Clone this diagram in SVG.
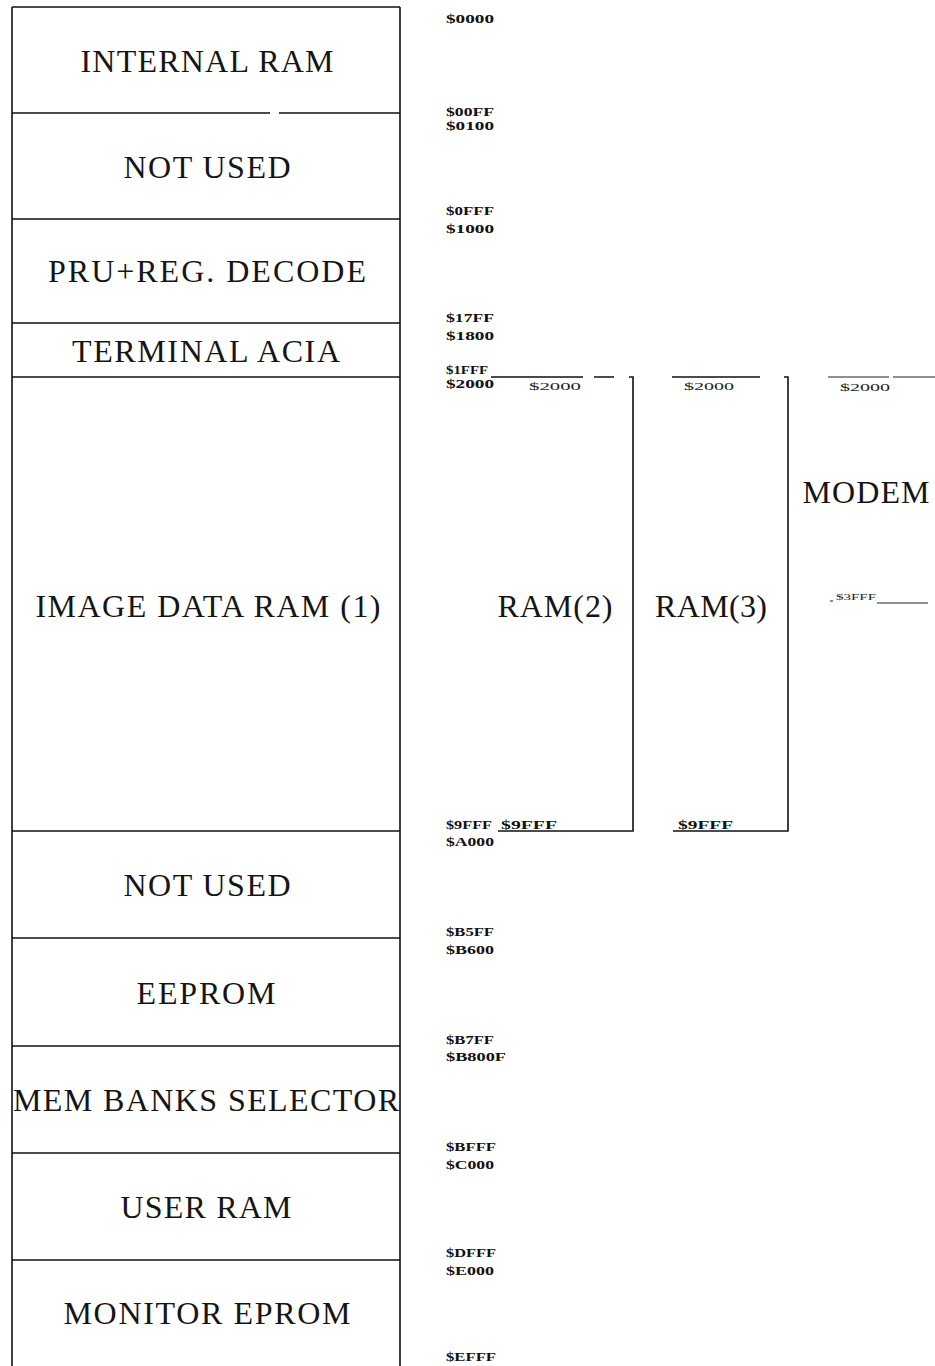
<svg xmlns="http://www.w3.org/2000/svg" width="935" height="1366" viewBox="0 0 935 1366">
<style>
.ln{stroke:#111;stroke-width:1.6;fill:none}
.thin{stroke:#222;stroke-width:1.2;fill:none}
.lbl{font-family:"Liberation Serif",serif;font-size:32px;fill:#151515;text-anchor:middle}
.addr{font-family:"Liberation Serif",serif;font-size:12px;font-weight:bold;fill:#111}
.sub{font-family:"Liberation Serif",serif;font-size:11px;fill:#222}
.tiny{font-family:"Liberation Serif",serif;font-size:9px;fill:#222}
</style>
<rect width="935" height="1366" fill="#fff"/>
<g id="memory-column" class="ln">
<path d="M12 7 H400 M12 7 V1366 M400 7 V1366"/>
</g>
<g id="internal-ram"><path class="ln" d="M12 113 H270 M279 113 H400"/><text class="lbl" x="207" y="72" textLength="253" lengthAdjust="spacing">INTERNAL RAM</text></g>
<g id="not-used-1"><path class="ln" d="M12 219 H400"/><text class="lbl" x="207" y="178" textLength="167" lengthAdjust="spacing">NOT USED</text></g>
<g id="pru-reg-decode"><path class="ln" d="M12 323 H400"/><text class="lbl" x="207" y="282" textLength="318" lengthAdjust="spacing">PRU+REG. DECODE</text></g>
<g id="terminal-acia"><path class="ln" d="M12 377 H400"/><text class="lbl" x="206" y="362" textLength="268" lengthAdjust="spacing">TERMINAL ACIA</text></g>
<g id="image-data-ram"><path class="ln" d="M12 831 H400"/><text class="lbl" x="208" y="617" textLength="345" lengthAdjust="spacing">IMAGE DATA RAM (1)</text></g>
<g id="not-used-2"><path class="ln" d="M12 938 H400"/><text class="lbl" x="207" y="896" textLength="167" lengthAdjust="spacing">NOT USED</text></g>
<g id="eeprom"><path class="ln" d="M12 1046 H400"/><text class="lbl" x="206" y="1004" textLength="139" lengthAdjust="spacing">EEPROM</text></g>
<g id="mem-banks-selector"><path class="ln" d="M12 1153 H400"/><text class="lbl" x="206" y="1111" textLength="386" lengthAdjust="spacing">MEM BANKS SELECTOR</text></g>
<g id="user-ram"><path class="ln" d="M12 1260 H400"/><text class="lbl" x="206" y="1218" textLength="171" lengthAdjust="spacing">USER RAM</text></g>
<g id="monitor-eprom"><text class="lbl" x="207" y="1324" textLength="287" lengthAdjust="spacing">MONITOR EPROM</text></g>
<g id="addresses">
<text class="addr" x="446" y="23" textLength="48" lengthAdjust="spacingAndGlyphs">$0000</text>
<text class="addr" x="446" y="116" textLength="48" lengthAdjust="spacingAndGlyphs">$00FF</text>
<text class="addr" x="446" y="130" textLength="48" lengthAdjust="spacingAndGlyphs">$0100</text>
<text class="addr" x="446" y="215" textLength="48" lengthAdjust="spacingAndGlyphs">$0FFF</text>
<text class="addr" x="446" y="233" textLength="48" lengthAdjust="spacingAndGlyphs">$1000</text>
<text class="addr" x="446" y="322" textLength="48" lengthAdjust="spacingAndGlyphs">$17FF</text>
<text class="addr" x="446" y="340" textLength="48" lengthAdjust="spacingAndGlyphs">$1800</text>
<text class="addr" x="446" y="374" textLength="42" lengthAdjust="spacingAndGlyphs">$1FFF</text>
<text class="addr" x="446" y="388" textLength="48" lengthAdjust="spacingAndGlyphs">$2000</text>
<text class="addr" x="446" y="829" textLength="46" lengthAdjust="spacingAndGlyphs">$9FFF</text>
<text class="addr" x="446" y="846" textLength="48" lengthAdjust="spacingAndGlyphs">$A000</text>
<text class="addr" x="446" y="936" textLength="48" lengthAdjust="spacingAndGlyphs">$B5FF</text>
<text class="addr" x="446" y="954" textLength="48" lengthAdjust="spacingAndGlyphs">$B600</text>
<text class="addr" x="446" y="1044" textLength="48" lengthAdjust="spacingAndGlyphs">$B7FF</text>
<text class="addr" x="446" y="1061" textLength="60" lengthAdjust="spacingAndGlyphs">$B800F</text>
<text class="addr" x="446" y="1151" textLength="50" lengthAdjust="spacingAndGlyphs">$BFFF</text>
<text class="addr" x="446" y="1169" textLength="48" lengthAdjust="spacingAndGlyphs">$C000</text>
<text class="addr" x="446" y="1257" textLength="50" lengthAdjust="spacingAndGlyphs">$DFFF</text>
<text class="addr" x="446" y="1275" textLength="48" lengthAdjust="spacingAndGlyphs">$E000</text>
<text class="addr" x="446" y="1361" textLength="50" lengthAdjust="spacingAndGlyphs">$EFFF</text>
</g>
<g id="ram2">
<path class="ln" d="M491 377 H583 M594 377 H614 M629 377 H633 V831 H498"/>
<text class="sub" x="529" y="390" textLength="52" lengthAdjust="spacingAndGlyphs">$2000</text>
<text class="addr" x="501" y="829" textLength="56" lengthAdjust="spacingAndGlyphs">$9FFF</text>
<text class="lbl" x="555" y="617" textLength="115" lengthAdjust="spacing">RAM(2)</text>
</g>
<g id="ram3">
<path class="ln" d="M672 377 H760 M784 377 H788 V831 H673"/>
<text class="sub" x="684" y="390" textLength="50" lengthAdjust="spacingAndGlyphs">$2000</text>
<text class="addr" x="678" y="829" textLength="55" lengthAdjust="spacingAndGlyphs">$9FFF</text>
<text class="lbl" x="711" y="617" textLength="112" lengthAdjust="spacing">RAM(3)</text>
</g>
<g id="modem">
<path class="thin" d="M828 377 H889 M893 377 H935"/>
<text class="sub" x="840" y="391" textLength="50" lengthAdjust="spacingAndGlyphs">$2000</text>
<text class="lbl" x="866" y="503" textLength="127" lengthAdjust="spacing">MODEM</text>
<path class="thin" d="M830 601 H833 M877 603 H928"/>
<text class="tiny" x="836" y="600" textLength="40" lengthAdjust="spacingAndGlyphs">$3FFF</text>
</g>
</svg>
